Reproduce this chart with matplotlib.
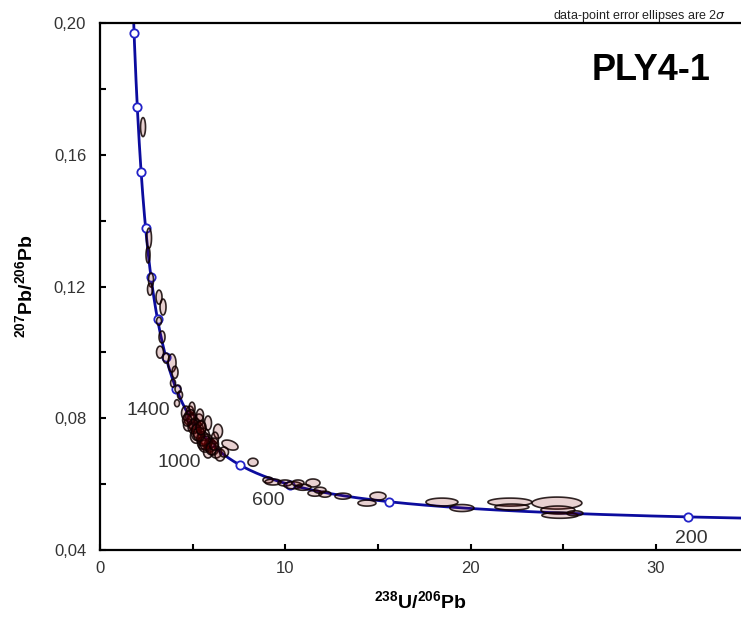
import numpy as np
import matplotlib.pyplot as plt
from matplotlib.patches import Polygon
from matplotlib.ticker import MultipleLocator, FuncFormatter

plt.rcParams['font.family'] = ['Liberation Sans', 'DejaVu Sans']
plt.rcParams['mathtext.fontset'] = 'custom'
plt.rcParams['mathtext.rm'] = 'Liberation Sans'
plt.rcParams['mathtext.bf'] = 'Liberation Sans:bold'

# decay constants (1/yr) and U ratio for the Tera-Wasserburg concordia
L238 = 1.55125e-10
L235 = 9.8485e-10
U85 = 137.88

marker_ages = [200, 400, 600, 800, 1000, 1200, 1400, 1600, 1800, 2000,
               2200, 2400, 2600, 2800]
label_ages = [200, 600, 1000, 1400]
label_x = [31.9, 9.1, 4.3, 2.6]
label_y = [0.0437, 0.0552, 0.0667, 0.0825]

# error ellipses: centre, 2-sigma half axes, correlation
ell_x = [2.321, 2.644, 2.590, 2.752, 2.698, 3.184, 3.400, 3.184, 3.346, 3.238,
         3.562, 3.886, 4.047, 3.940, 4.209, 4.317, 4.155, 4.857,
         4.641, 4.803, 4.965, 5.127, 4.749, 5.289, 5.451, 5.181, 5.613, 5.774,
         5.936, 5.505, 6.098, 6.260, 6.476, 5.828, 5.343, 5.667,
         4.965, 5.397, 5.828, 6.368, 7.016, 6.692, 8.257, 6.206,
         9.066, 9.336, 9.984, 10.416, 10.955, 10.685, 11.495, 11.603, 12.142,
         11.873, 13.114, 14.409, 15.003, 18.457, 19.536, 22.126, 22.234,
         24.663, 24.717, 24.825, 25.634,
         4.90, 5.05, 5.20, 5.55, 5.70, 6.00, 4.70, 5.35, 5.45, 6.15]
ell_y = [0.1684, 0.1347, 0.1296, 0.1220, 0.1192, 0.1168, 0.1138, 0.1095, 0.1047, 0.1001,
         0.0983, 0.0968, 0.0940, 0.0907, 0.0889, 0.0871, 0.0846, 0.0822,
         0.0816, 0.0801, 0.0792, 0.0780, 0.0780, 0.0764, 0.0770, 0.0746, 0.0746, 0.0731,
         0.0719, 0.0725, 0.0710, 0.0698, 0.0689, 0.0698, 0.0795, 0.0716,
         0.0831, 0.0810, 0.0786, 0.0761, 0.0719, 0.0698, 0.0667, 0.0740,
         0.0613, 0.0607, 0.0604, 0.0597, 0.0591, 0.0604, 0.0604, 0.0573, 0.0570,
         0.0582, 0.0564, 0.0543, 0.0564, 0.0546, 0.0528, 0.0546, 0.0531,
         0.0543, 0.0522, 0.0506, 0.0512,
         0.0805, 0.0775, 0.0758, 0.0738, 0.0725, 0.0708, 0.0795, 0.0752, 0.0772, 0.0722]
ell_sx = [0.135, 0.135, 0.108, 0.135, 0.135, 0.162, 0.162, 0.135, 0.162, 0.189,
          0.162, 0.216, 0.162, 0.135, 0.162, 0.135, 0.135, 0.189,
          0.243, 0.270, 0.243, 0.300, 0.243, 0.300, 0.243, 0.300, 0.300, 0.300,
          0.300, 0.243, 0.300, 0.300, 0.270, 0.243, 0.243, 0.324,
          0.162, 0.189, 0.189, 0.243, 0.432, 0.243, 0.270, 0.189,
          0.270, 0.432, 0.378, 0.486, 0.432, 0.324, 0.378, 0.378, 0.324,
          0.324, 0.432, 0.486, 0.432, 0.863, 0.648, 1.187, 0.917,
          1.349, 0.917, 0.971, 0.432,
          0.270, 0.300, 0.270, 0.324, 0.300, 0.270, 0.243, 0.300, 0.270, 0.243]
ell_sy = [0.00288, 0.00304, 0.00243, 0.00213, 0.00182, 0.00213, 0.00243, 0.00121, 0.00182, 0.00182,
          0.00152, 0.00273, 0.00182, 0.00121, 0.00121, 0.00121, 0.00106, 0.00152,
          0.00213, 0.00213, 0.00243, 0.00213, 0.00182, 0.00243, 0.00213, 0.00213, 0.00243, 0.00213,
          0.00213, 0.00182, 0.00213, 0.00182, 0.00182, 0.00182, 0.00182, 0.00182,
          0.00182, 0.00182, 0.00213, 0.00213, 0.00152, 0.00152, 0.00121, 0.00182,
          0.00091, 0.00091, 0.00091, 0.00106, 0.00091, 0.00091, 0.00121, 0.00091, 0.00091,
          0.00091, 0.00091, 0.00091, 0.00121, 0.00121, 0.00106, 0.00121, 0.00091,
          0.00182, 0.00121, 0.00091, 0.00076,
          0.00213, 0.00213, 0.00243, 0.00213, 0.00213, 0.00182, 0.00182, 0.00213, 0.00213, 0.00182]
ell_rho = [0.0] * 40 + [-0.4] + [0.0] * 34

fig = plt.figure(figsize=(7.41, 6.21), dpi=100)
ax = fig.add_axes([0.135, 0.114, 0.865, 0.849])


def concordia(t_ma):
    t = np.asarray(t_ma, dtype=float) * 1e6
    e8 = np.exp(L238 * t) - 1
    e5 = np.exp(L235 * t) - 1
    return 1 / e8, e5 / e8 / U85


def ellipse_pts(x, y, sx, sy, rho, n=80):
    a = np.linspace(0, 2 * np.pi, n)
    px = x + sx * np.cos(a)
    py = y + sy * (rho * np.cos(a) + np.sqrt(1 - rho ** 2) * np.sin(a))
    return np.column_stack([px, py])


cx, cy = concordia(np.linspace(20, 3300, 800))
ax.plot(cx, cy, color='#0c0c9e', lw=2, zorder=2)
mx, my = concordia(marker_ages)
ax.plot(mx, my, 'o', ms=6, mfc='white', mec='#2323c8', mew=1.3, zorder=3)

for x, y, sx, sy, r in zip(ell_x, ell_y, ell_sx, ell_sy, ell_rho):
    ax.add_patch(Polygon(ellipse_pts(x, y, sx, sy, r), closed=True,
                         facecolor=(0.5, 0.0, 0.0, 0.18),
                         edgecolor=(0.05, 0.0, 0.0, 0.85), lw=1.2, zorder=4))

for a, x, y in zip(label_ages, label_x, label_y):
    ax.text(x, y, str(a), fontsize=14, color='#333333', ha='center', va='center')

ax.set_xlim(0, 34.6)
ax.set_ylim(0.04, 0.20)
ax.xaxis.set_major_locator(MultipleLocator(10))
ax.xaxis.set_minor_locator(MultipleLocator(5))
ax.yaxis.set_major_locator(MultipleLocator(0.04))
ax.yaxis.set_minor_locator(MultipleLocator(0.02))
ax.yaxis.set_major_formatter(FuncFormatter(lambda v, p: f'{v:.2f}'.replace('.', ',')))
ax.tick_params(which='both', direction='in', length=4, width=1.5, labelsize=12,
               labelcolor='#333333', top=False, right=False)
ax.tick_params(axis='y', pad=10)
ax.tick_params(axis='x', pad=8)
ax.spines['right'].set_visible(False)
for s in ['left', 'bottom', 'top']:
    ax.spines[s].set_linewidth(1.6)

ax.set_xlabel(r'$^{\mathbf{238}}\mathbf{U/}^{\mathbf{206}}\mathbf{Pb}$', fontsize=14, labelpad=10)
ax.set_ylabel(r'$^{\mathbf{207}}\mathbf{Pb/}^{\mathbf{206}}\mathbf{Pb}$', fontsize=14, labelpad=12)

fig.text(0.98, 0.975, r'data-point error ellipses are 2$\sigma$', fontsize=9,
         ha='right', va='center', color='#222222')
ax.text(0.86, 0.91, 'PLY4-1', transform=ax.transAxes, fontsize=26, fontweight='bold',
        ha='center', va='center')

fig.savefig('out.png', dpi=100)
